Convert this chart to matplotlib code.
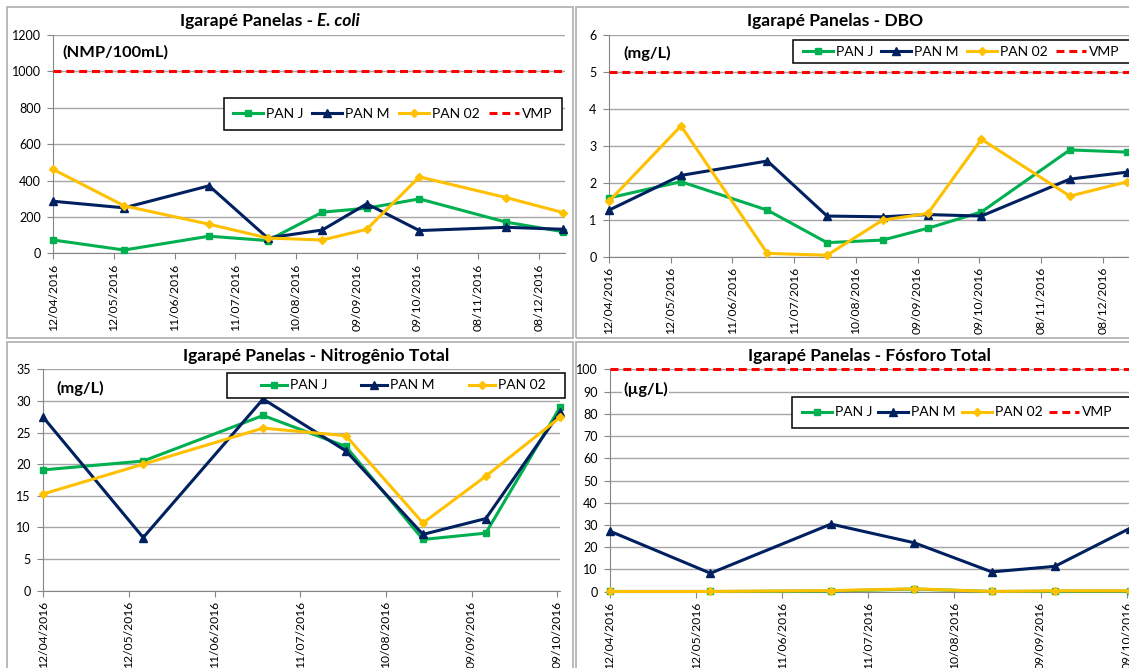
import datetime as dt
import matplotlib
matplotlib.use("Agg")
import matplotlib.pyplot as plt
import matplotlib.dates as mdates
from matplotlib.patches import Rectangle

plt.rcParams['font.family'] = ['Lato', 'DejaVu Sans']

# ---- data -------------------------------------------------------------
start = dt.date(2016, 4, 12)
datas = ['2016-04-12', '2016-05-17', '2016-06-28', '2016-07-27', '2016-08-23',
         '2016-09-14', '2016-10-10', '2016-11-22', '2016-12-20']
series_names = ['PAN J', 'PAN M', 'PAN 02']

ecoli_j = [73, 18, 94, 70, 226, 248, 299, 171, 119]
ecoli_m = [286, 250, 371, 84, 128, 272, 125, 143, 132]
ecoli_02 = [461, 261, 160, 84, 73, 132, 420, 306, 224]
ecoli_vmp = 1000

dbo_j = [1.59, 2.03, 1.26, 0.38, 0.45, 0.77, 1.21, 2.89, 2.83]
dbo_m = [1.26, 2.20, 2.59, 1.10, 1.08, 1.14, 1.10, 2.10, 2.29]
dbo_02 = [1.50, 3.54, 0.09, 0.04, 0.99, 1.17, 3.18, 1.64, 2.03]
dbo_vmp = 5

nt_j = [19.1, 20.5, 27.7, 22.8, 8.1, 9.1, 29.0]
nt_m = [27.4, 8.4, 30.3, 22.1, 8.9, 11.4, 28.2]
nt_02 = [15.3, 20.0, 25.7, 24.5, 10.7, 18.1, 27.4]

pt_j = [0.1, 0.1, 0.3, 1.2, 0.1, 0.2, 0.3]
pt_m = [27.2, 8.3, 30.4, 22.0, 8.9, 11.4, 28.4]
pt_02 = [0.1, 0.1, 0.5, 1.3, 0.1, 0.4, 0.4]
pt_vmp = 100

# ---- style ------------------------------------------------------------
W, H = 1129, 668
styles = [dict(color='#00B050', marker='s', ms=5),
          dict(color='#002060', marker='^', ms=5.5),
          dict(color='#FFC000', marker='D', ms=3.8)]
GRID = '#A6A6A6'
AXC = '#868686'
LEG_FS = 10
PX = LEG_FS * 100 / 72   # legend em in pixels

fig = plt.figure(figsize=(W / 100, H / 100), dpi=100)


def fx(x):
    return x / W


def fy(y):
    return 1 - y / H


def frame(l, t, r, b):
    fig.patches.append(Rectangle((fx(l), fy(b)), fx(r - l), (b - t) / H,
                                 transform=fig.transFigure, fill=False,
                                 ec='#B4B4B4', lw=1.3))


def title(cx, cy, main, ital=None):
    r = fig.canvas.get_renderer()
    t1 = fig.text(fx(cx), fy(cy), main, ha='left', va='center',
                  fontsize=12.6, fontweight='bold')
    parts = [t1]
    if ital:
        t2 = fig.text(0, 0, ital, ha='left', va='center', fontsize=12.6,
                      fontweight='bold', style='italic')
        parts.append(t2)
    widths = [p.get_window_extent(r).width for p in parts]
    x = cx - sum(widths) / 2
    for p, w in zip(parts, widths):
        p.set_position((fx(x), fy(cy)))
        x += w


def panel(box, ydata, ymax, ystep, ndays, vmp, unit, unit_xy, leg_box,
          leg_x, leg_sp, handle_px):
    l, t, r, b = box
    ax = fig.add_axes([fx(l), fy(b), fx(r - l), (b - t) / H])
    n = len(ydata[0])
    xs = [dt.date.fromisoformat(d) for d in datas[:n]]
    for ys, name, st in zip(ydata, series_names, styles):
        ax.plot(xs, ys, lw=2.2, color=st['color'], marker=st['marker'],
                ms=st['ms'], mec=st['color'], mfc=st['color'], label=name,
                clip_on=False, zorder=3)
    if vmp is not None:
        ax.axhline(vmp, color='#FF0000', lw=2.2, dashes=(2.6, 1.6),
                   label='VMP', clip_on=False, zorder=3)
    ax.set_ylim(0, ymax)
    ax.set_yticks([i * ystep for i in range(int(round(ymax / ystep)) + 1)])
    xmax = start + dt.timedelta(days=ndays)
    ax.set_xlim(start, xmax)
    ticks = [start + dt.timedelta(days=30 * k) for k in range(ndays // 30 + 1)]
    ax.set_xticks(ticks)
    ax.xaxis.set_major_formatter(mdates.DateFormatter('%d/%m/%Y'))
    ax.tick_params(axis='x', rotation=90, labelsize=8.7, length=4,
                   color=AXC, pad=3.5)
    ax.tick_params(axis='y', labelsize=9.0, length=4, color=AXC, pad=5)
    ax.grid(axis='y', color=GRID, lw=1)
    ax.set_axisbelow(True)
    for s in ['top', 'right']:
        ax.spines[s].set_visible(False)
    for s in ['left', 'bottom']:
        ax.spines[s].set_color(AXC)
    ax.text(fx(unit_xy[0]), fy(unit_xy[1]), unit, transform=fig.transFigure,
            ha='left', va='center', fontsize=11.8, fontweight='bold',
            bbox=dict(fc='white', ec='none', pad=1), zorder=4)
    # legend box
    x0, y0, x1, y1 = leg_box
    ax.add_patch(Rectangle((fx(x0), fy(y1)), fx(x1 - x0), (y1 - y0) / H,
                           transform=fig.transFigure, fc='white', ec='black',
                           lw=1.1, clip_on=False, zorder=4.5))
    ax.legend(loc='center left', bbox_to_anchor=(fx(leg_x), fy((y0 + y1) / 2)),
              bbox_transform=fig.transFigure, ncol=4, frameon=False,
              fontsize=LEG_FS, borderpad=0, borderaxespad=0,
              handlelength=handle_px / PX, handletextpad=3 / PX,
              columnspacing=leg_sp / PX)
    return ax


# top-left: E. coli
frame(7, 7, 573, 338)
panel((53.3, 35, 565, 253.3), [ecoli_j, ecoli_m, ecoli_02], 1200, 200, 253,
      ecoli_vmp, '(NMP/100mL)', (62, 52.5), (224, 98, 562, 130), 233, 9, 30)
title(270, 21, 'Igarapé Panelas - ', 'E. coli')

# top-right: DBO
frame(576, 7, 1140, 338)
panel((609, 35, 1129.5, 256.7), [dbo_j, dbo_m, dbo_02], 6, 1, 253,
      dbo_vmp, '(mg/L)', (623, 53), (793, 40, 1145, 63), 803, 8, 30)
title(835, 21, 'Igarapé Panelas - DBO')

# bottom-left: Nitrogênio Total
frame(7, 342, 573, 680)
panel((43.3, 369.3, 560, 590.7), [nt_j, nt_m, nt_02], 35, 5, 181,
      None, '(mg/L)', (56, 388), (227, 373, 565, 398), 261, 34, 26)
title(316, 356, 'Igarapé Panelas - Nitrogênio Total')

# bottom-right: Fósforo Total
frame(576, 342, 1140, 680)
panel((610, 369.3, 1129.5, 591.7), [pt_j, pt_m, pt_02], 100, 10, 181,
      pt_vmp, '(µg/L)', (623, 389), (792, 397, 1145, 428), 802, 6, 30)
title(870, 356, 'Igarapé Panelas - Fósforo Total')

fig.savefig('out.png', dpi=100)
